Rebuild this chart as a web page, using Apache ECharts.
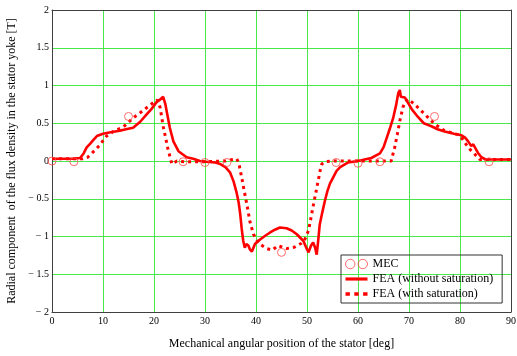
<!DOCTYPE html>
<html>
<head>
<meta charset="utf-8">
<script src="https://cdn.jsdelivr.net/npm/echarts@6/dist/echarts.min.js"></script>
<style>
  html, body { margin: 0; padding: 0; background: #fff; }
  #chart { width: 517px; height: 356px; }
</style>
</head>
<body>
<div id="chart"></div>
<script>
// Radial flux density in the stator yoke vs. mechanical angle
const xTicks = [0, 10, 20, 30, 40, 50, 60, 70, 80, 90];
const yTicks = [-2, -1.5, -1, -0.5, 0, 0.5, 1, 1.5, 2];

// Magnetic equivalent circuit results
const mecAngle = [0, 4.3, 15, 25.7, 30, 34.3, 45, 55.7, 60, 64.3, 75, 85.7];
const mecB     = [0, -0.01, 0.59, -0.01, -0.02, -0.02, -1.21, -0.02, -0.03, -0.01, 0.59, -0.01];

// Finite element results, linear iron
const feaLinAngle = [0, 2, 4, 5.5, 6.2, 6.8, 7.5, 8.0, 8.8, 10, 11.5, 13.3, 14.5, 15.9, 17.3, 18.6, 19.4, 20.5, 21.3, 21.8,
  22.2, 22.6, 23.1, 23.8, 24.8, 26.4, 27.7, 29, 30.3, 32, 33, 34, 34.9, 35.6, 36.2, 36.6, 36.9, 37.2, 37.5, 37.8,
  38.1, 38.5, 38.8, 39.2, 39.8, 40.8, 41.8, 42.7, 43.7, 44.7, 46, 47, 48, 49.3, 49.8, 50.3, 50.8, 51.2, 51.6, 51.9,
  52.2, 52.5, 53, 53.5, 54, 54.5, 55.8, 56.5, 58, 60, 62.6, 64.3, 65, 65.6, 66.2, 66.9, 67.5, 67.9, 68.2, 68.4,
  68.6, 69.2, 70.6, 71.8, 72.9, 74.4, 75.6, 77, 78.8, 80.3, 81, 81.6, 82.2, 82.6, 82.9, 83.5, 84.2, 85, 86.1, 90];
const feaLinB = [0.03, 0.03, 0.03, 0.04, 0.1, 0.18, 0.23, 0.27, 0.33, 0.36, 0.38, 0.40, 0.42, 0.44, 0.52, 0.62, 0.68, 0.78, 0.82, 0.85,
  0.76, 0.62, 0.44, 0.26, 0.13, 0.05, 0.03, 0.0, -0.01, -0.02, -0.04, -0.08, -0.15, -0.27, -0.42, -0.55, -0.70, -0.90, -1.06, -1.15,
  -1.10, -1.12, -1.17, -1.20, -1.10, -1.04, -0.99, -0.95, -0.91, -0.88, -0.89, -0.92, -0.97, -1.06, -1.14, -1.21, -1.12, -1.08, -1.15, -1.24,
  -1.05, -0.84, -0.68, -0.53, -0.40, -0.30, -0.13, -0.08, -0.02, 0.0, 0.04, 0.10, 0.18, 0.30, 0.42, 0.57, 0.75, 0.90, 0.94, 0.85,
  0.87, 0.84, 0.68, 0.58, 0.50, 0.46, 0.42, 0.39, 0.36, 0.34, 0.31, 0.26, 0.20, 0.22, 0.20, 0.11, 0.05, 0.02, 0.02, 0.02];

// Finite element results, saturable iron
const feaSatAngle = [0, 3, 6, 7.0, 7.5, 8.5, 9.4, 10, 10.7, 12, 14, 15.9, 17.7, 19.4, 20.6, 21.2, 21.8, 22.3, 22.8, 23.2,
  23.5, 24.5, 26, 30, 34, 36.2, 36.6, 37.2, 37.7, 38.2, 38.8, 39.5, 40.5, 42.1, 43.2, 44.3, 46, 47.6, 48.9, 49.5,
  50.3, 50.7, 51.2, 51.7, 52.2, 52.6, 52.9, 53.5, 55, 60, 64, 66.5, 67.2, 67.7, 68.2, 68.8, 69.3, 69.8, 71.1, 73.1,
  75, 77, 79.6, 80.5, 81.2, 82, 82.9, 83.9, 86, 90];
const feaSatB = [0.03, 0.03, 0.03, 0.05, 0.08, 0.15, 0.21, 0.27, 0.33, 0.39, 0.45, 0.57, 0.66, 0.75, 0.81, 0.71, 0.46, 0.30, 0.14, 0.04,
  -0.04, 0.0, -0.01, -0.01, 0.0, 0.03, -0.02, -0.22, -0.40, -0.57, -0.80, -0.97, -1.09, -1.16, -1.18, -1.12, -1.16, -1.14, -1.09, -1.05,
  -0.92, -0.78, -0.60, -0.43, -0.26, -0.12, -0.04, -0.01, 0.0, 0.0, 0.0, 0.0, 0.18, 0.35, 0.53, 0.71, 0.79, 0.82, 0.75, 0.62,
  0.49, 0.40, 0.35, 0.29, 0.22, 0.15, 0.09, 0.02, 0.02, 0.02];

const pairs = (xs, ys) => xs.map((x, i) => [x, ys[i]]);
const serif = 'Liberation Serif, Times New Roman, serif';
const fmtY = v => (v < 0 ? '\u2212 ' + Math.abs(v) : String(v));
const frame = { show: true, onZero: false, lineStyle: { color: '#404040', width: 1 } };
const gridGreen = { show: true, lineStyle: { color: '#4be84b', width: 1 } };

// legend glyphs: two open circles, a solid bar, short dashes
const iconMec = 'path://M0,4.5a4.5,4.5 0 1,0 9,0a4.5,4.5 0 1,0 -9,0M12,4.5a4.5,4.5 0 1,0 9,0a4.5,4.5 0 1,0 -9,0';
const iconSolid = 'path://M0,0h21v3h-21z';
const iconDash = 'path://M0,0h4v3h-4zM8,0h4v3h-4zM16,0h4v3h-4z';

const chart = echarts.init(document.getElementById('chart'), null, { renderer: 'canvas' });
chart.setOption({
  animation: false,
  backgroundColor: '#ffffff',
  grid: { left: 52, right: 6, top: 10, bottom: 44, outerBoundsMode: 'none', containLabel: false },
  xAxis: [
    {
      type: 'value',
      min: xTicks[0], max: xTicks[xTicks.length - 1], interval: 10,
      name: 'Mechanical angular position of the stator [deg]',
      nameLocation: 'middle', nameGap: 26,
      nameTextStyle: { fontFamily: serif, fontSize: 12, color: '#000' },
      axisLine: frame,
      axisTick: { show: false },
      axisLabel: { fontFamily: serif, fontSize: 10, color: '#000', margin: 4 },
      splitLine: gridGreen
    },
    {
      type: 'value', position: 'top',
      min: xTicks[0], max: xTicks[xTicks.length - 1], interval: 10,
      axisLine: frame, axisTick: { show: false }, axisLabel: { show: false }, splitLine: { show: false }
    }
  ],
  yAxis: [
    {
      type: 'value',
      min: yTicks[0], max: yTicks[yTicks.length - 1], interval: 0.5,
      name: 'Radial component  of the flux density in the stator yoke [T]',
      nameLocation: 'middle', nameGap: 32, nameRotate: 90,
      nameTextStyle: { fontFamily: serif, fontSize: 12, color: '#000' },
      axisLine: frame,
      axisTick: { show: false },
      axisLabel: { fontFamily: serif, fontSize: 10, color: '#000', margin: 3, formatter: fmtY },
      splitLine: gridGreen
    },
    {
      type: 'value', position: 'right',
      min: yTicks[0], max: yTicks[yTicks.length - 1], interval: 0.5,
      axisLine: frame, axisTick: { show: false }, axisLabel: { show: false }, splitLine: { show: false }
    }
  ],
  legend: {
    orient: 'vertical',
    left: 341, top: 255,
    data: [
      { name: 'MEC', icon: iconMec,
        itemStyle: { color: 'rgba(255,255,255,0)', borderColor: '#ff4a4a', borderWidth: 1 } },
      { name: 'FEA (without saturation)', icon: iconSolid,
        itemStyle: { color: '#ff0000', borderWidth: 0 } },
      { name: 'FEA (with saturation)', icon: iconDash,
        itemStyle: { color: '#ff0000', borderWidth: 0 } }
    ],
    backgroundColor: 'transparent',
    borderColor: '#333333', borderWidth: 1, borderRadius: 0,
    padding: [3, 9, 3, 4],
    itemGap: 3, itemWidth: 22, itemHeight: 10,
    textStyle: { fontFamily: serif, fontSize: 12, color: '#000' }
  },
  series: [
    {
      name: 'FEA (with saturation)',
      type: 'line',
      data: pairs(feaSatAngle, feaSatB),
      symbol: 'none', showSymbol: false,
      lineStyle: { color: '#ff0000', width: 3, type: [3, 4] },
      itemStyle: { color: '#ff0000' },
      z: 2
    },
    {
      name: 'FEA (without saturation)',
      type: 'line',
      data: pairs(feaLinAngle, feaLinB),
      symbol: 'none', showSymbol: false,
      lineStyle: { color: '#ff0000', width: 2.6 },
      itemStyle: { color: '#ff0000' },
      z: 3
    },
    {
      name: 'MEC',
      type: 'scatter',
      data: pairs(mecAngle, mecB),
      symbol: 'circle', symbolSize: 8,
      itemStyle: { color: 'rgba(255,255,255,0)', borderColor: '#ff4a4a', borderWidth: 1 },
      z: 4
    }
  ]
});
</script>
</body>
</html>
